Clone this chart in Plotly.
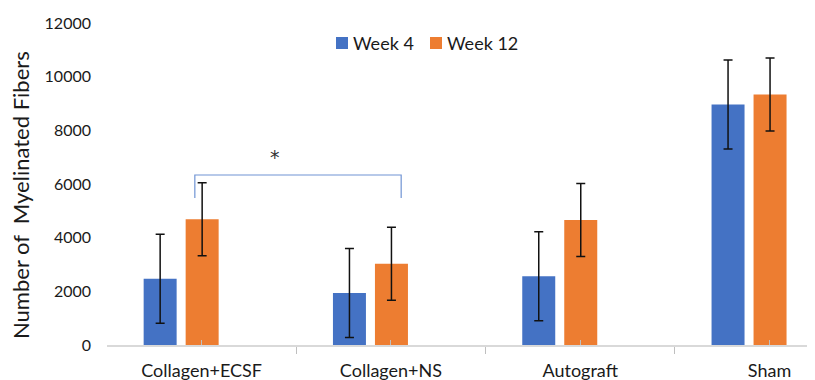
import plotly.graph_objects as go

categories = ["Collagen+ECSF", "Collagen+NS", "Autograft", "Sham"]
series_names = ["Week 4", "Week 12"]
week4 = [2470, 1935, 2560, 8960]
week4_err = [1660, 1660, 1660, 1660]
week12 = [4690, 3025, 4660, 9335]
week12_err = [1360, 1360, 1360, 1360]
y_tick_values = [0, 2000, 4000, 6000, 8000, 10000, 12000]
y_tick_labels = ["0", "2000", "4000", "6000", "8000", "10000", "12000"]
y_title = "Number of  Myelinated Fibers"
signif_pair = (0, 1)
signif_label = "*"

BLUE = "#4472C4"
ORANGE = "#ED7D31"
FONT = "Lato"
TXT = "#1a1a1a"

# page body has an 8px margin: the figure starts at (8, 8) in the window
OFF = 8
W, H = 815 - OFF, 380 - OFF
ML, MR, MT, MB = 99, 0, 15, 35
PW, PH = W - ML - MR, H - MT - MB


def px(x):
    """window x pixel -> paper coordinate"""
    return (x - OFF - ML) / PW


def py(y):
    """window y pixel -> paper coordinate"""
    return (H - MB - (y - OFF)) / PH


idx = list(range(len(categories)))
bw = 0.1743

fig = go.Figure()
fig.add_trace(go.Bar(
    x=idx, y=week4, name=series_names[0], width=bw, offset=-0.3064,
    marker=dict(color=BLUE, line=dict(width=0)),
    error_y=dict(type="data", array=week4_err, color="#111", thickness=1.5, width=4.5),
    showlegend=False,
))
fig.add_trace(go.Bar(
    x=idx, y=week12, name=series_names[1], width=bw, offset=-0.0845,
    marker=dict(color=ORANGE, line=dict(width=0)),
    error_y=dict(type="data", array=week12_err, color="#111", thickness=1.5, width=4.5),
    showlegend=False,
))

# significance bracket
a, b = signif_pair
x0, x1 = a - 0.036, b + 0.054
ytop, yleg = 6335, 5480
fig.add_shape(type="path",
              path=f"M {x0},{yleg} L {x0},{ytop} L {x1},{ytop} L {x1},{yleg}",
              xref="x", yref="y", line=dict(color="#7094D4", width=1.2))
fig.add_annotation(x=a + 0.39, y=7000, xref="x", yref="y", text=signif_label,
                   showarrow=False, font=dict(family="DejaVu Sans", size=19, color="#333"))

# legend (custom, horizontal)
for name, col, sx in zip(series_names, [BLUE, ORANGE], [336, 430]):
    fig.add_shape(type="rect", xref="paper", yref="paper",
                  x0=px(sx), x1=px(sx + 12), y0=py(49), y1=py(37),
                  fillcolor=col, line=dict(width=0))
    fig.add_annotation(xref="paper", yref="paper", x=px(sx + 15), y=py(43),
                       xanchor="left", yanchor="middle", text=name, showarrow=False,
                       font=dict(family=FONT, size=18, color=TXT))

# y title
fig.add_annotation(xref="paper", yref="paper", x=px(20), y=py(195),
                   xanchor="center", yanchor="middle", text=y_title, textangle=-90,
                   showarrow=False, font=dict(family=FONT, size=22, color=TXT))

fig.update_layout(
    width=W, height=H,
    margin=dict(l=ML, r=MR, t=MT, b=MB),
    paper_bgcolor="white", plot_bgcolor="white",
    barmode="overlay",
    font=dict(family=FONT, color=TXT),
    xaxis=dict(
        range=[-0.5, -0.5 + PW / 189.3],
        tickmode="array", tickvals=idx, ticktext=categories,
        ticks="inside", ticklen=5, tickcolor="#bfbfbf", tickwidth=1,
        minor=dict(tick0=-0.5, dtick=1, ticks="outside", ticklen=7,
                   tickcolor="#bfbfbf", tickwidth=1),
        showline=True, linecolor="#d9d9d9", linewidth=1.5,
        showgrid=False, zeroline=False,
        tickfont=dict(family=FONT, size=18, color=TXT),
        ticklabelstandoff=9,
    ),
    yaxis=dict(
        range=[0, 12000], tickmode="array", tickvals=y_tick_values,
        ticktext=y_tick_labels,
        showgrid=False, zeroline=False, showline=False, ticks="",
        tickfont=dict(family=FONT, size=16, color=TXT),
        ticklabelstandoff=15,
    ),
)

fig.write_html("out.html")
